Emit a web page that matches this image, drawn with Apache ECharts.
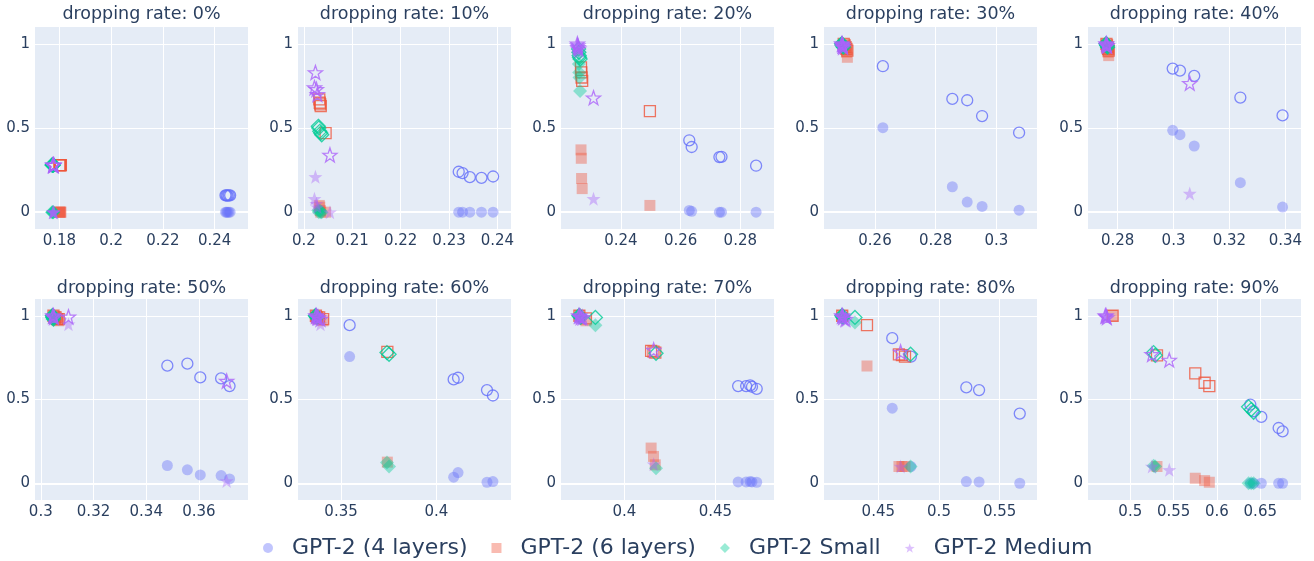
<!DOCTYPE html>
<html>
<head>
<meta charset="utf-8">
<script src="https://cdn.jsdelivr.net/npm/echarts@6.0.0/dist/echarts.min.js"></script>
<style>
html, body { margin: 0; padding: 0; background: #fff; }
#chart { width: 1314px; height: 561px; }
</style>
</head>
<body>
<div id="chart"></div>
<script>
// panel titles
var rates = ['0%', '10%', '20%', '30%', '40%', '50%', '60%', '70%', '80%', '90%'];

// x ticks and x ranges per panel
var xTicks = [
    [0.18, 0.2, 0.22, 0.24], [0.2, 0.21, 0.22, 0.23, 0.24], [0.24, 0.26, 0.28], [0.26, 0.28, 0.3], [0.28, 0.3, 0.32, 0.34],
    [0.3, 0.32, 0.34, 0.36], [0.35, 0.4], [0.4, 0.45], [0.45, 0.5, 0.55], [0.5, 0.55, 0.6, 0.65]
];
var xRanges = [
    [0.1706, 0.2529], [0.1988, 0.2428], [0.2199, 0.2913], [0.2432, 0.3134], [0.2694, 0.3456],
    [0.2978, 0.3786], [0.3274, 0.4392], [0.3652, 0.4822], [0.4053, 0.5807], [0.4512, 0.697]
];
var yTicks = [0, 0.5, 1];

// each point: [x, filled y, open y]
var gpt2L4 = [
    [[0.2442, 0, 0.10], [0.2446, 0, 0.10], [0.2450, 0, 0.098], [0.2455, 0, 0.10], [0.2460, 0, 0.10]],
    [[0.2320, 0, 0.240], [0.2328, 0, 0.232], [0.2343, 0, 0.208], [0.2367, 0, 0.204], [0.2391, 0, 0.212]],
    [[0.2629, 0.01, 0.427], [0.2637, 0.005, 0.387], [0.2730, 0, 0.327], [0.2737, 0, 0.329], [0.2853, 0, 0.276]],
    [[0.2626, 0.502, 0.867], [0.2855, 0.151, 0.673], [0.2904, 0.06, 0.665], [0.2953, 0.034, 0.571], [0.3075, 0.012, 0.472]],
    [[0.2997, 0.486, 0.853], [0.3023, 0.460, 0.841], [0.3074, 0.393, 0.810], [0.3239, 0.175, 0.681], [0.3390, 0.030, 0.575]],
    [[0.3480, 0.106, 0.702], [0.3556, 0.08, 0.714], [0.3605, 0.05, 0.632], [0.3684, 0.046, 0.626], [0.3716, 0.026, 0.58]],
    [[0.3545, 0.756, 0.944], [0.4091, 0.036, 0.62], [0.4114, 0.064, 0.63], [0.4266, 0.006, 0.556], [0.4297, 0.01, 0.524]],
    [[0.4625, 0.008, 0.58], [0.4669, 0.008, 0.58], [0.4691, 0.01, 0.584], [0.4701, 0.008, 0.576], [0.4727, 0.006, 0.564]],
    [[0.4615, 0.448, 0.866], [0.4769, 0.1, 0.756], [0.5225, 0.01, 0.572], [0.5330, 0.008, 0.556], [0.5665, 0, 0.416]],
    [[0.6385, 0, 0.47], [0.6423, 0, 0.43], [0.6512, 0, 0.396], [0.6712, 0, 0.33], [0.6758, 0, 0.31]]
];
var gpt2L6 = [
    [[0.1800, 0, 0.28], [0.1802, 0, 0.28], [0.1803, 0, 0.28], [0.1805, 0, 0.28], [0.1806, 0, 0.28]],
    [[0.2032, 0.04, 0.67], [0.2033, 0.03, 0.65], [0.2034, 0.01, 0.64], [0.2035, 0, 0.63], [0.2045, 0, 0.47]],
    [[0.2266, 0.37, 0.86], [0.2267, 0.32, 0.83], [0.2268, 0.20, 0.80], [0.2270, 0.14, 0.78], [0.2497, 0.04, 0.60]],
    [[0.2497, 0.99, 1.0], [0.2500, 0.98, 0.99], [0.2503, 0.97, 0.98], [0.2506, 0.95, 0.97], [0.2509, 0.92, 0.96]],
    [[0.2760, 0.99, 1.0], [0.2762, 0.98, 0.99], [0.2764, 0.97, 0.98], [0.2766, 0.95, 0.97], [0.2768, 0.93, 0.96]],
    [[0.3048, 0.99, 1.0], [0.3052, 0.99, 0.99], [0.3056, 0.98, 0.99], [0.3062, 0.98, 0.98], [0.3068, 0.97, 0.98]],
    [[0.3368, 0.99, 1.0], [0.3375, 0.99, 0.99], [0.3385, 0.98, 0.99], [0.3406, 0.97, 0.98], [0.3743, 0.126, 0.784]],
    [[0.3753, 1.0, 1.0], [0.3789, 0.97, 0.984], [0.4147, 0.21, 0.79], [0.4160, 0.16, 0.786], [0.4170, 0.11, 0.78]],
    [[0.4203, 1.0, 1.0], [0.4407, 0.70, 0.944], [0.4670, 0.1, 0.77], [0.4695, 0.1, 0.765], [0.4720, 0.1, 0.756]],
    [[0.4796, 1.0, 1.0], [0.5308, 0.1, 0.764], [0.5750, 0.03, 0.656], [0.5858, 0.016, 0.60], [0.5912, 0.006, 0.58]]
];
var gpt2Small = [
    [[0.1772, 0, 0.28], [0.1773, 0, 0.28], [0.1775, 0, 0.28], [0.1776, 0, 0.28], [0.1777, 0, 0.28]],
    [[0.2030, 0.01, 0.51], [0.2031, 0, 0.50], [0.2033, 0.01, 0.48], [0.2035, 0, 0.47], [0.2037, 0, 0.46]],
    [[0.2258, 0.95, 0.97], [0.2259, 0.88, 0.95], [0.2260, 0.83, 0.93], [0.2261, 0.80, 0.92], [0.2263, 0.72, 0.91]],
    [[0.2490, 1.0, 1.0], [0.2491, 0.99, 1.0], [0.2492, 0.99, 0.99], [0.2494, 0.98, 0.99], [0.2496, 0.98, 0.98]],
    [[0.2758, 1.0, 1.0], [0.2760, 0.99, 1.0], [0.2761, 0.99, 0.99], [0.2762, 0.98, 0.99], [0.2764, 0.98, 0.98]],
    [[0.3044, 1.0, 1.0], [0.3045, 0.99, 1.0], [0.3046, 0.99, 0.99], [0.3047, 0.98, 0.99], [0.3048, 0.98, 0.98]],
    [[0.3365, 1.0, 1.0], [0.3368, 0.99, 1.0], [0.3372, 0.99, 0.99], [0.3741, 0.124, 0.78], [0.3752, 0.10, 0.77]],
    [[0.3750, 1.0, 1.0], [0.3755, 0.99, 1.0], [0.3760, 0.99, 0.99], [0.3841, 0.944, 0.99], [0.4174, 0.09, 0.776]],
    [[0.4200, 1.0, 1.0], [0.4205, 0.99, 1.0], [0.4210, 0.99, 0.99], [0.4308, 0.96, 0.99], [0.4766, 0.1, 0.77]],
    [[0.5269, 0.104, 0.78], [0.5288, 0.1, 0.764], [0.6365, 0, 0.456], [0.6396, 0, 0.44], [0.6423, 0, 0.424]]
];
var gpt2Medium = [
    [[0.1775, 0, 0.28], [0.1776, 0, 0.28], [0.1777, 0, 0.28], [0.1778, 0, 0.28], [0.1779, 0, 0.28]],
    [[0.2022, 0.08, 0.74], [0.2024, 0.21, 0.83], [0.2026, 0.05, 0.73], [0.2028, 0.03, 0.70], [0.2054, 0, 0.34]],
    [[0.2254, 0.99, 1.0], [0.2255, 0.98, 0.99], [0.2256, 0.97, 0.98], [0.2258, 0.95, 0.97], [0.2308, 0.08, 0.68]],
    [[0.2491, 1.0, 1.0], [0.2492, 0.99, 1.0], [0.2493, 0.99, 0.99], [0.2494, 0.98, 0.99], [0.2495, 0.98, 0.98]],
    [[0.2759, 1.0, 1.0], [0.2760, 0.99, 1.0], [0.2761, 0.99, 0.99], [0.2762, 0.98, 0.99], [0.3058, 0.111, 0.766]],
    [[0.3046, 1.0, 1.0], [0.3048, 0.99, 1.0], [0.3050, 0.99, 0.99], [0.3105, 0.95, 0.994], [0.3705, 0.014, 0.61]],
    [[0.3368, 1.0, 1.0], [0.3371, 0.99, 1.0], [0.3375, 0.99, 0.99], [0.3380, 0.98, 0.99], [0.3392, 0.95, 0.98]],
    [[0.3750, 1.0, 1.0], [0.3755, 0.99, 1.0], [0.3760, 0.99, 0.99], [0.3770, 0.98, 0.99], [0.4161, 0.114, 0.796]],
    [[0.4200, 1.0, 1.0], [0.4205, 0.99, 1.0], [0.4210, 0.99, 0.99], [0.4230, 0.97, 0.98], [0.4684, 0.1, 0.784]],
    [[0.4712, 1.0, 1.0], [0.4720, 0.99, 1.0], [0.4730, 0.99, 0.99], [0.5250, 0.1, 0.77], [0.5450, 0.08, 0.736]]
];

var STAR = 'path://M0,-10L2.35,-3.24L9.51,-3.09L3.8,1.24L5.88,8.09L0,4L-5.88,8.09L-3.8,1.24L-9.51,-3.09L-2.35,-3.24Z';
var FONT = 'DejaVu Sans';
var TXT = '#2a3f5f';

var models = [
    { name: 'GPT-2 (4 layers)', rows: gpt2L4, symbol: 'circle', size: 11, rgb: '99,110,250' },
    { name: 'GPT-2 (6 layers)', rows: gpt2L6, symbol: 'rect', size: 11, rgb: '239,85,59' },
    { name: 'GPT-2 Small', rows: gpt2Small, symbol: 'diamond', size: 14, rgb: '0,204,150' },
    { name: 'GPT-2 Medium', rows: gpt2Medium, symbol: STAR, size: 14, rgb: '171,99,250' }
];

var lefts = [35, 298, 561, 824, 1088], tops = [27, 299], heights = [202, 201], W = 213;
var grid = [], xAxis = [], yAxis = [], series = [], graphic = [];

rates.forEach(function (rate, i) {
    var row = Math.floor(i / 5), col = i % 5;
    grid.push({
        left: lefts[col], top: tops[row], width: W, height: heights[row],
        show: true, backgroundColor: '#E5ECF6', borderWidth: 0
    });
    xAxis.push({
        type: 'value', gridIndex: i, min: xRanges[i][0], max: xRanges[i][1],
        axisLine: { show: false },
        axisTick: { show: false, customValues: xTicks[i] },
        axisLabel: { customValues: xTicks[i], color: TXT, fontSize: 15, fontFamily: FONT, margin: 5 },
        splitLine: { show: true, lineStyle: { color: '#fff', width: 1 } }
    });
    yAxis.push({
        type: 'value', gridIndex: i, min: -0.1, max: 1.1,
        axisLine: { show: false },
        axisTick: { show: false, customValues: yTicks },
        axisLabel: { customValues: yTicks, color: TXT, fontSize: 15, fontFamily: FONT, margin: 5 },
        splitLine: { show: true, lineStyle: { color: '#fff', width: 1 } }
    });
    graphic.push({
        type: 'text', x: lefts[col] + W / 2, y: row ? 288 : 14,
        style: {
            text: 'dropping rate: ' + rate, fill: TXT, fontSize: 17.5, fontFamily: FONT,
            align: 'center', verticalAlign: 'middle', textAlign: 'center', textVerticalAlign: 'middle'
        }
    });

    models.forEach(function (m, k) {
        var s = {
            type: 'scatter', name: m.name, xAxisIndex: i, yAxisIndex: i,
            symbol: m.symbol, symbolSize: m.size, z: 3,
            data: m.rows[i].map(function (p) { return [p[0], p[1]]; }),
            itemStyle: { color: 'rgba(' + m.rgb + ',0.5)' }
        };
        if (k === 0) {
            // plotly style zero line
            s.markLine = {
                silent: true, symbol: ['none', 'none'], z: 1, label: { show: false },
                lineStyle: { color: '#fff', width: 2, type: 'solid' },
                data: [{ yAxis: 0 }]
            };
        }
        series.push(s);
        series.push({
            type: 'scatter', name: m.name + ' (open)', xAxisIndex: i, yAxisIndex: i,
            symbol: m.symbol, symbolSize: m.size, z: 3,
            data: m.rows[i].map(function (p) { return [p[0], p[2]]; }),
            itemStyle: { color: 'rgba(0,0,0,0)', borderColor: 'rgb(' + m.rgb + ')', borderWidth: 1.3 }
        });
    });
});

var chart = echarts.init(document.getElementById('chart'));
chart.setOption({
    animation: false,
    backgroundColor: '#fff',
    grid: grid,
    xAxis: xAxis,
    yAxis: yAxis,
    graphic: graphic,
    legend: {
        data: models.map(function (m) {
            return { name: m.name, icon: m.symbol };
        }),
        left: 258, top: 532,
        itemWidth: 10, itemHeight: 10, itemGap: 24,
        textStyle: { color: TXT, fontSize: 22, fontFamily: FONT, padding: [0, 0, 0, 14] }
    },
    series: series
});
</script>
</body>
</html>
